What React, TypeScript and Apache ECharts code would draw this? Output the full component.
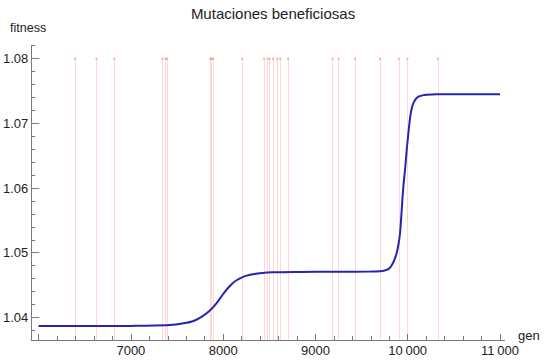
import React, { useEffect, useRef } from "react";
import * as echarts from "echarts";

// Beneficial mutation generations (vertical red lines)
const mutationGens = [
  6396, 6627, 6819, 7343, 7376, 7392, 7861, 7876, 7891, 8204, 8441, 8481, 8501,
  8540, 8582, 8617, 8703, 9185, 9252, 9429, 9700, 9903, 9997, 10326,
];
const mutationLevel = 1.08;

// Mean fitness curve
const genPoints = [
  6000, 6500, 7000, 7100, 7420, 7570, 7680, 7770, 7860, 7920, 7970, 8010, 8060,
  8100, 8150, 8200, 8255, 8320, 8400, 8540, 8830, 9200, 9600, 9700, 9750, 9790,
  9820, 9850, 9880, 9900, 9917, 9930, 9942, 9955, 9971, 9990, 10007, 10020,
  10033, 10047, 10061, 10085, 10115, 10160, 10207, 10315, 10700, 11000,
];
const fitnessPoints = [
  1.03867, 1.03867, 1.03868, 1.0387, 1.03882, 1.03909, 1.03944, 1.04011,
  1.0411, 1.04205, 1.043, 1.0438, 1.04465, 1.04525, 1.04578, 1.04615,
  1.04645, 1.04665, 1.04682, 1.04697, 1.04702, 1.04706, 1.04708, 1.04714,
  1.04725, 1.04745, 1.0479, 1.0487, 1.04991, 1.0513, 1.05304, 1.0555, 1.05814,
  1.0606, 1.06278, 1.066, 1.06845, 1.0702, 1.07155, 1.0725, 1.07309, 1.0737,
  1.07411, 1.07432, 1.07442, 1.07448, 1.07448, 1.07448,
];

const titleText = "Mutaciones beneficiosas";
const yName = "fitness";
const xName = "gen";

const X_MIN = 5920;
const X_MAX = 11050;
const Y_MIN = 1.0365;
const Y_MAX = 1.082;

const FONT = "Liberation Sans, Arial, Helvetica, sans-serif";
const AXIS_COLOR = "#7a7a7a";
const LABEL_COLOR = "#222";

function fmtThousands(v: number): string {
  const s = String(Math.round(v));
  if (s.length <= 4) return s;
  return s.slice(0, s.length - 3) + "\u2009" + s.slice(s.length - 3);
}

export default function App() {
  const ref = useRef<HTMLDivElement>(null);
  useEffect(() => {
    if (!ref.current) return;
    const chart = echarts.init(ref.current, undefined, { renderer: "svg" });
    const curve = genPoints.map((g, i) => [g, fitnessPoints[i]]);
    const markData = mutationGens.map((g) => [
      { coord: [g, mutationLevel] },
      { coord: [g, Y_MIN] },
    ]);
    const option: any = {
      animation: false,
      backgroundColor: "#fff",
      title: {
        text: titleText,
        left: 268,
        top: 1,
        textAlign: "center",
        textStyle: { fontFamily: FONT, fontSize: 15, fontWeight: "normal", color: "#222" },
      },
      graphic: [
        {
          type: "text",
          left: 10,
          top: 21,
          style: { text: yName, fontFamily: FONT, fontSize: 12.5, fill: "#222" },
        },
        {
          type: "text",
          left: 518,
          top: 329,
          style: { text: xName, fontFamily: FONT, fontSize: 13, fill: "#222" },
        },
      ],
      grid: [
        { left: 31.2, right: 40.4, top: 45.7, bottom: 20 },
        { left: 38.6, right: 45, top: 45.7, bottom: 20 },
        { left: 31.2, right: 40.4, top: 45.7, bottom: 29.66 },
        { left: 31.2, right: 40.4, top: 58.6, bottom: 42.6 },
      ],
      xAxis: [
        {
          gridIndex: 0,
          type: "value",
          min: X_MIN,
          max: X_MAX,
          axisLine: { show: true, lineStyle: { color: AXIS_COLOR, width: 1 } },
          axisTick: { show: false },
          axisLabel: { show: false },
          splitLine: { show: false },
        },
        {
          gridIndex: 1,
          type: "value",
          min: 6000,
          max: 11000,
          interval: 1000,
          axisLine: { show: false },
          axisTick: { show: true, inside: true, length: 6, lineStyle: { color: AXIS_COLOR } },
          minorTick: { show: true, splitNumber: 5, length: 4, lineStyle: { color: AXIS_COLOR } },
          axisLabel: {
            show: true,
            margin: 4,
            fontFamily: FONT,
            fontSize: 13,
            color: LABEL_COLOR,
            showMinLabel: true,
            showMaxLabel: true,
            formatter: (v: number) => (v < 7000 ? "" : fmtThousands(v)),
          },
          splitLine: { show: false },
          minorSplitLine: { show: false },
        },
        { gridIndex: 2, type: "value", show: false, min: 0, max: 1 },
        { gridIndex: 3, type: "value", show: false, min: 0, max: 1 },
      ],
      yAxis: [
        {
          gridIndex: 0,
          type: "value",
          min: Y_MIN,
          max: Y_MAX,
          axisLine: { show: true, lineStyle: { color: AXIS_COLOR, width: 1 } },
          axisTick: { show: false },
          axisLabel: { show: false },
          splitLine: { show: false },
        },
        { gridIndex: 1, type: "value", show: false, min: 0, max: 1 },
        {
          gridIndex: 2,
          type: "value",
          min: 1.038,
          max: 1.082,
          interval: 0.002,
          axisLine: { show: false },
          axisTick: { show: true, inside: true, length: 4, lineStyle: { color: AXIS_COLOR } },
          axisLabel: { show: false },
          splitLine: { show: false },
        },
        {
          gridIndex: 3,
          type: "value",
          min: 1.04,
          max: 1.08,
          interval: 0.01,
          axisLine: { show: false },
          axisTick: { show: true, inside: true, length: 6, lineStyle: { color: AXIS_COLOR } },
          axisLabel: {
            show: true,
            margin: 5,
            fontFamily: FONT,
            fontSize: 13,
            color: LABEL_COLOR,
            formatter: (v: number) => v.toFixed(2),
          },
          splitLine: { show: false },
        },
      ],
      series: [
        {
          type: "scatter",
          xAxisIndex: 0,
          yAxisIndex: 0,
          data: mutationGens.map((g) => [g, mutationLevel]),
          symbol: "rect",
          symbolSize: [2, 2],
          itemStyle: { color: "rgba(255,70,70,0.55)" },
          markLine: {
            silent: true,
            symbol: ["none", "none"],
            label: { show: false },
            lineStyle: { color: "rgba(255,0,0,0.16)", width: 1, type: "solid" },
            data: markData,
          },
          z: 1,
        },
        {
          type: "line",
          xAxisIndex: 0,
          yAxisIndex: 0,
          data: curve,
          showSymbol: false,
          smooth: 0.2,
          lineStyle: { color: "#2424b0", width: 2 },
          z: 3,
        },
      ],
    };
    chart.setOption(option);
    return () => chart.dispose();
  }, []);
  return (
    <div
      ref={ref}
      style={{ position: "fixed", left: 0, top: 0, width: 545, height: 360, background: "#fff" }}
    />
  );
}
